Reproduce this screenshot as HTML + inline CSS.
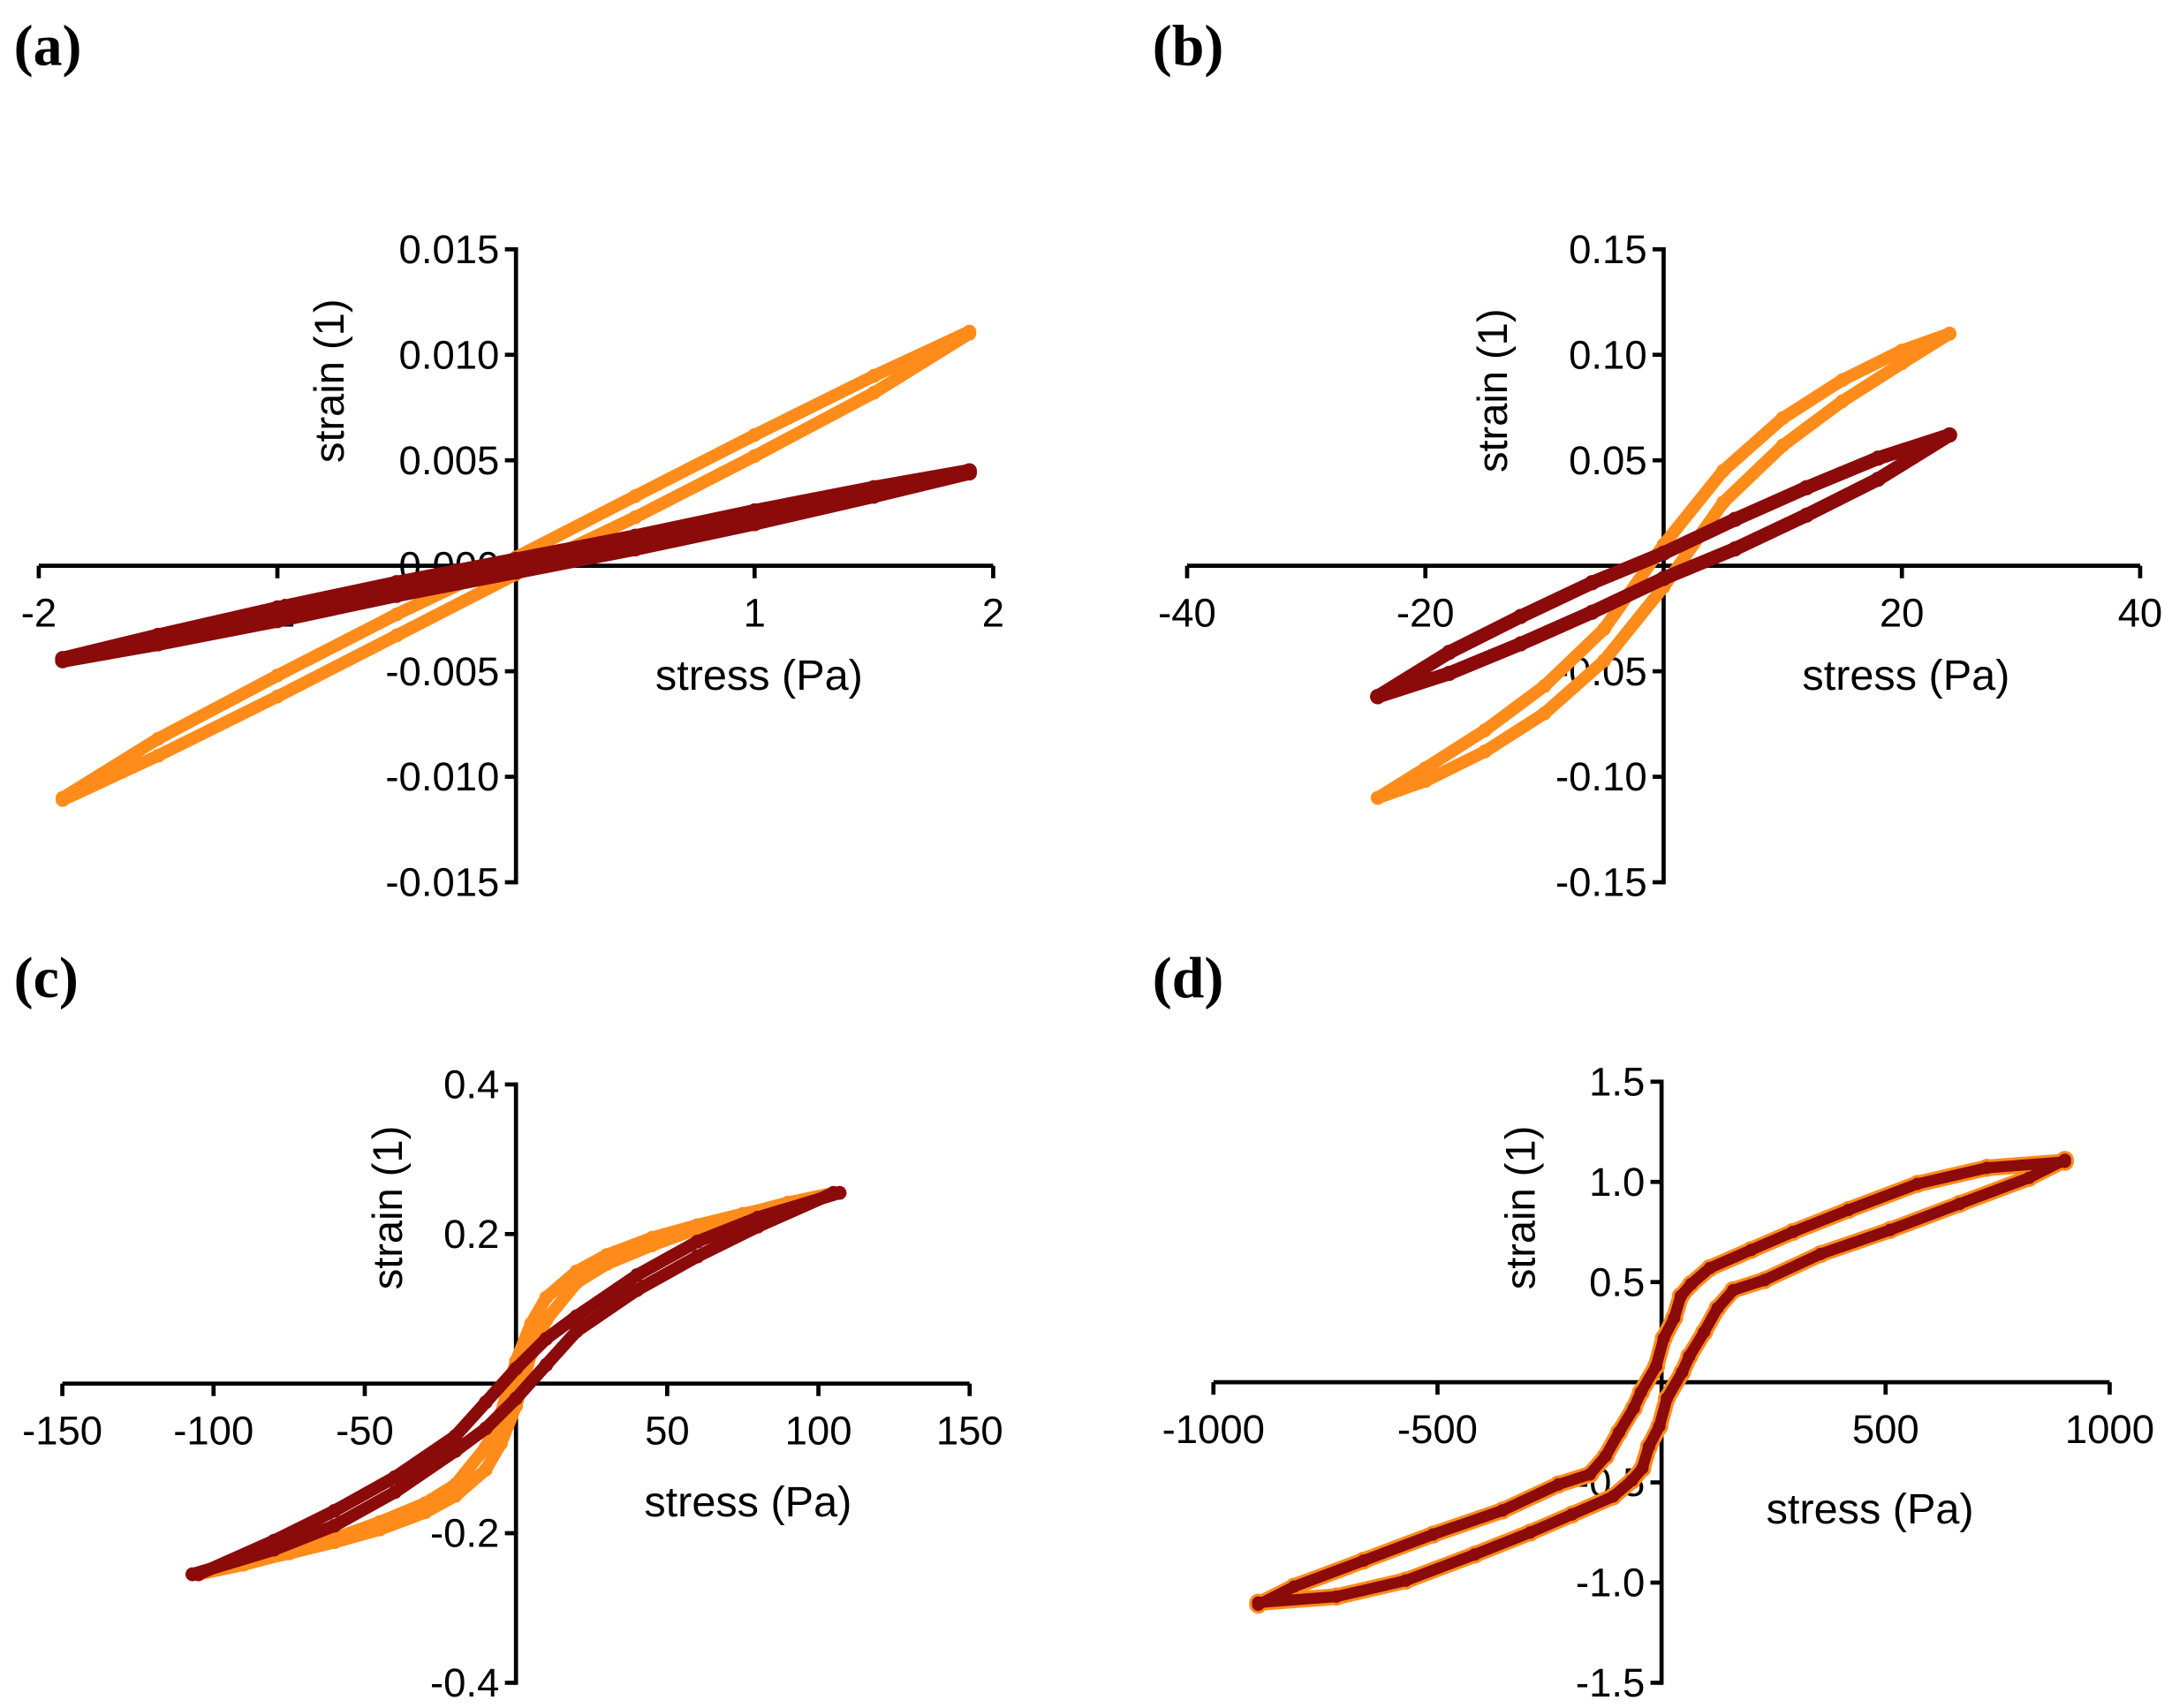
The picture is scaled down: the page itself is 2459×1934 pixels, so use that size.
<!DOCTYPE html>
<html><head><meta charset="utf-8"><style>html,body{margin:0;padding:0;background:#fff}svg{display:block}</style></head>
<body>
<svg id="fig" xmlns="http://www.w3.org/2000/svg" width="2459" height="1934" viewBox="0 0 1568 1233.2" font-family="Liberation Sans, Arial, sans-serif"></svg>
<script>
// ---- Panel a data
const aX = [-1.9,-1.5,-1,-0.5,0,0.5,1,1.5,1.9];
const aOrangeUpper = [-0.0110,-0.0082,-0.0052,-0.0023,0.0004,0.0033,0.0062,0.0090,0.0111];
const aOrangeLower = [-0.0111,-0.0090,-0.0062,-0.0033,-0.0004,0.0023,0.0052,0.0082,0.0110];
const aRedUpper = [-0.0044,-0.0033,-0.0020,-0.0008,0.0003,0.0014,0.0026,0.0037,0.0045];
const aRedLower = [-0.0045,-0.0037,-0.0026,-0.0014,-0.0003,0.0008,0.0020,0.0033,0.0044];
// ---- Panel b data
const bXo = [-24,-20,-15,-10,-5,0,5,10,15,20,24];
const bOrangeUpper = [-0.110,-0.096,-0.078,-0.057,-0.030,0.010,0.045,0.070,0.088,0.102,0.110];
const bOrangeLower = [-0.110,-0.102,-0.088,-0.070,-0.045,-0.010,0.030,0.057,0.078,0.096,0.110];
const bXr = [-24,-18,-12,-6,0,6,12,18,24];
const bRedUpper = [-0.062,-0.041,-0.024,-0.008,0.006,0.022,0.037,0.051,0.062];
const bRedLower = [-0.062,-0.051,-0.037,-0.022,-0.006,0.008,0.024,0.041,0.062];
// ---- Panel c data
const cXo = [-105,-90,-75,-60,-45,-30,-20,-10,-5,0,5,10,20,30,45,60,75,90,107];
const cOrangeUpper = [-0.255,-0.242,-0.226,-0.207,-0.185,-0.160,-0.135,-0.085,-0.040,0.030,0.080,0.115,0.150,0.172,0.195,0.212,0.227,0.240,0.255];
const cXr = [-105,-80,-60,-40,-20,-10,0,10,20,40,60,80,107];
const cRedUpper = [-0.255,-0.210,-0.170,-0.125,-0.070,-0.025,0.020,0.060,0.090,0.145,0.190,0.222,0.255];
// ---- Panel d data
const dX = [-900,-820,-665,-510,-355,-230,-160,-125,-95,-62,-46,-12,5,28,43,66,108,200,293,417,571,726,900];
const dUpper = [-1.11,-1.02,-0.89,-0.76,-0.64,-0.51,-0.46,-0.37,-0.25,-0.13,-0.05,0.08,0.22,0.32,0.43,0.49,0.57,0.66,0.75,0.86,0.99,1.07,1.10];
// ---- Tick labels
const aXTicks = [-2,-1,1,2], aYTicks = ["0.015","0.010","0.005","0.000","-0.005","-0.010","-0.015"];
const bXTicks = [-40,-20,20,40], bYTicks = ["0.15","0.10","0.05","-0.05","-0.10","-0.15"];
const cXTicks = [-150,-100,-50,50,100,150], cYTicks = ["0.4","0.2","-0.2","-0.4"];
const dXTicks = [-1000,-500,500,1000], dYTicks = ["1.5","1.0","0.5","-0.5","-1.0","-1.5"];

const NS="http://www.w3.org/2000/svg", svg=document.getElementById('fig');
function mk(tag,attrs,parent){const e=document.createElementNS(NS,tag);for(const k in attrs)e.setAttribute(k,attrs[k]);(parent||svg).appendChild(e);return e;}
function neg(xs,ys){return {x:xs.map(v=>-v).reverse(), y:ys.map(v=>-v).reverse()};}

function panel(p){
  const g=mk('g',{});
  
  
  const sx=v=>p.x0+(v-p.xmin)/(p.xmax-p.xmin)*(p.x1-p.x0);
  const sy=v=>p.y0-(v-p.ymin)/(p.ymax-p.ymin)*(p.y0-p.y1);
  const ax=sx(0), ay=sy(0);
  p.yT.forEach(t=>{const v=parseFloat(t);const y=sy(v);
    const tk=mk('line',{x1:ax-8,x2:ax,y1:y,y2:y,stroke:'#000','stroke-width':3},g);
    
    
    const tx=mk('text',{x:ax-12,y:y+10,'text-anchor':'end','font-size':29},g);tx.textContent=t;
    
    });
  p.xT.forEach(v=>{const x=sx(v);
    const tk=mk('line',{x1:x,x2:x,y1:ay,y2:ay+9,stroke:'#000','stroke-width':3},g);
    
    
    const tx=mk('text',{x:x,y:ay+44,'text-anchor':'middle','font-size':29},g);tx.textContent=v;
    
    });
  const xa=mk('line',{x1:sx(p.xmin),x2:sx(p.xmax),y1:ay,y2:ay,stroke:'#000','stroke-width':3},g);
  
  
  const ya=mk('line',{x1:ax,x2:ax,y1:sy(p.ymax)-1.5,y2:sy(p.ymin)+1.5,stroke:'#000','stroke-width':3},g);
  
  
  const yt=mk('text',{x:0,y:0,'font-size':30,'text-anchor':'middle',transform:`translate(${p.ytx},${p.yty}) rotate(-90)`},g);yt.textContent='strain (1)';
  
  
  const xt=mk('text',{x:p.xtx,y:p.xty,'font-size':31,'text-anchor':'middle'},g);xt.textContent='stress (Pa)';
  
  
  const lb=mk('text',{x:p.lx,y:p.ly,'font-size':42,'font-weight':'bold','font-family':'Liberation Serif, serif'},g);lb.textContent='('+p.id+')';
  
  
  p.series.forEach(s=>{
    const sg=mk('g',{},g);
    
    
    s.branches.forEach(b=>{
      const d=b.x.map((v,i)=>(i?'L':'M')+sx(v).toFixed(1)+' '+sy(b.y[i]).toFixed(1)).join(' ');
      const pa=mk('path',{d:d,fill:'none',stroke:s.color,'stroke-width':s.w,'stroke-linecap':'round','stroke-linejoin':'round'},sg);
      
      
      b.x.forEach((v,i)=>{const c=mk('circle',{cx:sx(v),cy:sy(b.y[i]),r:s.w/2+0.5,fill:s.color},sg);
        
        });
    });
  });
}
const OR='#ff8c1a', DR='#8b0a0a';
panel({id:'a',x0:28,x1:717,xmin:-2,xmax:2,y0:637,y1:180,ymin:-0.015,ymax:0.015,xT:aXTicks,yT:aYTicks,
  ytx:248,yty:275,xtx:548,xty:498,lx:10,ly:47,
  series:[{name:'orange-series',color:OR,w:9,branches:[{x:aX,y:aOrangeUpper},{x:aX,y:aOrangeLower}]},
          {name:'darkred-series',color:DR,w:10,branches:[{x:aX,y:aRedUpper},{x:aX,y:aRedLower}]}]});
panel({id:'b',x0:857,x1:1545,xmin:-40,xmax:40,y0:637,y1:180,ymin:-0.15,ymax:0.15,xT:bXTicks,yT:bYTicks,
  ytx:1088,yty:282,xtx:1376,xty:498,lx:832,ly:47,
  series:[{name:'orange-series',color:OR,w:9,branches:[{x:bXo,y:bOrangeUpper},{x:bXo,y:bOrangeLower}]},
          {name:'darkred-series',color:DR,w:10,branches:[{x:bXr,y:bRedUpper},{x:bXr,y:bRedLower}]}]});
const cOL=neg(cXo,cOrangeUpper), cRL=neg(cXr,cRedUpper);
panel({id:'c',x0:45,x1:700,xmin:-150,xmax:150,y0:1215,y1:783,ymin:-0.4,ymax:0.4,xT:cXTicks,yT:cYTicks,
  ytx:290,yty:872,xtx:540,xty:1095,lx:10,ly:720,
  series:[{name:'orange-series',color:OR,w:9,branches:[{x:cXo,y:cOrangeUpper},cOL]},
          {name:'darkred-series',color:DR,w:9,branches:[{x:cXr,y:cRedUpper},cRL]}]});
const dL=neg(dX,dUpper);
panel({id:'d',x0:876,x1:1523,xmin:-1000,xmax:1000,y0:1215,y1:781,ymin:-1.5,ymax:1.5,xT:dXTicks,yT:dYTicks,
  ytx:1108,yty:872,xtx:1350,xty:1100,lx:832,ly:720,
  series:[{name:'orange-series',color:OR,w:12,branches:[{x:dX,y:dUpper},dL]},
          {name:'darkred-series',color:DR,w:8,branches:[{x:dX,y:dUpper},dL]}]});
</script>
</body></html>
